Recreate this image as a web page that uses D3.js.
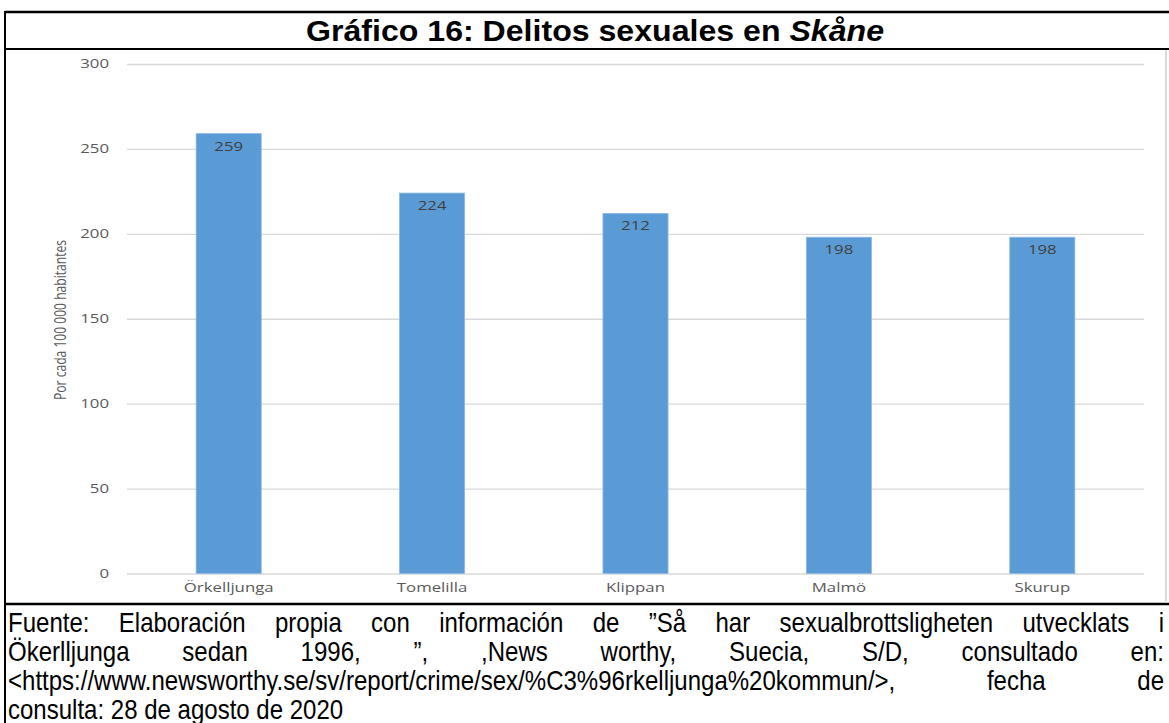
<!DOCTYPE html>
<html>
<head>
<meta charset="utf-8">
<script src="https://cdn.jsdelivr.net/npm/d3@7"></script>
<style>
  body { margin: 0; background: #fff; }
  svg { display: block; }
</style>
</head>
<body>
<div id="container"></div>
<script>
/* DATA */
const categories = ["Örkelljunga", "Tomelilla", "Klippan", "Malmö", "Skurup"];
const values = [259, 224, 212, 198, 198];
const yTicks = [0, 50, 100, 150, 200, 250, 300];
const footerLines = [
  "Fuente: Elaboración propia con información de ”Så har sexualbrottsligheten utvecklats i",
  "Ökerlljunga sedan 1996, ”, ,News worthy, Suecia, S/D, consultado en:",
  "<https://www.newsworthy.se/sv/report/crime/sex/%C3%96rkelljunga%20kommun/>, fecha de",
  "consulta: 28 de agosto de 2020"
];

/* CONSTANTS */
const width = 1169, height = 723;
const plot = { left: 127, right: 1144, top: 64, bottom: 573.5 };
const stretch = 1.4;      // the pasted chart picture is stretched sideways
const footSquash = 0.89;  // footer letters are tall and narrow

const svg = d3.select("#container")
  .append("svg")
  .attr("width", width)
  .attr("height", height);

// FRAME
const frame = svg.append("g").attr("stroke", "#000");
frame.append("line").attr("x1", 5).attr("x2", width).attr("y1", 12).attr("y2", 12).attr("stroke-width", 2.5);
frame.append("line").attr("x1", 5).attr("x2", width).attr("y1", 49).attr("y2", 49).attr("stroke-width", 2);
frame.append("line").attr("x1", 5).attr("x2", width).attr("y1", 604).attr("y2", 604).attr("stroke-width", 2.5);
frame.append("line").attr("x1", 5).attr("x2", 5).attr("y1", 11).attr("y2", height).attr("stroke-width", 2);
svg.append("line")
  .attr("x1", 1166).attr("x2", 1166).attr("y1", 50).attr("y2", 603)
  .attr("stroke", "#d9d9d9").attr("stroke-width", 2);

// TITLE
const title = svg.append("text")
  .attr("x", 595)
  .attr("y", 41)
  .attr("text-anchor", "middle")
  .attr("textLength", 578)
  .attr("lengthAdjust", "spacingAndGlyphs")
  .style("font-family", "'Liberation Sans', Arial, sans-serif")
  .style("font-size", "29px")
  .style("font-weight", "bold")
  .style("fill", "#000");
title.append("tspan").text("Gráfico 16: Delitos sexuales en ");
title.append("tspan").style("font-style", "italic").text("Skåne");

// SCALES
const x = d3.scaleBand()
  .domain(categories)
  .range([plot.left, plot.right])
  .paddingInner(0.68)
  .paddingOuter(0.34);

const y = d3.scaleLinear()
  .domain([0, 300])
  .range([plot.bottom, plot.top]);

// GRIDLINES + Y AXIS
const yAxis = svg.append("g")
  .attr("transform", `translate(${plot.left},0)`)
  .call(d3.axisLeft(y).tickValues(yTicks).tickSize(-(plot.right - plot.left)).tickPadding(0));
yAxis.select(".domain").remove();
yAxis.selectAll("line").attr("stroke", "#d9d9d9").attr("stroke-width", 1.3);
yAxis.selectAll("text")
  .attr("x", -18 / stretch)
  .attr("transform", `scale(${stretch},1)`)
  .style("font-family", "'Open Sans', 'Segoe UI', sans-serif")
  .style("font-size", "12px")
  .style("fill", "#595959");

// Y AXIS TITLE
svg.append("text")
  .attr("transform", `translate(66,320) rotate(-90) scale(1,${stretch})`)
  .attr("text-anchor", "middle")
  .attr("textLength", 160)
  .attr("lengthAdjust", "spacingAndGlyphs")
  .style("font-family", "'Liberation Sans Narrow', 'Open Sans', sans-serif")
  .style("font-size", "12px")
  .style("fill", "#595959")
  .text("Por cada 100 000 habitantes");

// BARS
const data = categories.map((c, i) => ({ name: c, value: values[i] }));

svg.selectAll("rect.bar")
  .data(data)
  .join("rect")
  .attr("class", "bar")
  .attr("x", d => x(d.name))
  .attr("y", d => y(d.value))
  .attr("width", x.bandwidth())
  .attr("height", d => y(0) - y(d.value))
  .attr("fill", "#5b9bd5")
  .attr("stroke", "#8db8e3")
  .attr("stroke-width", 0.8);

// DATA LABELS
svg.selectAll("text.value")
  .data(data)
  .join("text")
  .attr("class", "value")
  .attr("transform", d => `translate(${x(d.name) + x.bandwidth() / 2},${y(d.value) + 17}) scale(${stretch},1)`)
  .attr("text-anchor", "middle")
  .style("font-family", "'Open Sans', 'Segoe UI', sans-serif")
  .style("font-size", "12px")
  .style("fill", "#404040")
  .text(d => d.value);

// CATEGORY LABELS
svg.selectAll("text.cat")
  .data(categories)
  .join("text")
  .attr("class", "cat")
  .attr("transform", d => `translate(${x(d) + x.bandwidth() / 2},592) scale(${stretch},1)`)
  .attr("text-anchor", "middle")
  .style("font-family", "'Open Sans', 'Segoe UI', sans-serif")
  .style("font-size", "12px")
  .style("fill", "#595959")
  .text(d => d);

// FOOTER (justified by hand, in a narrowed group)
const textLeft = 8, textRight = 1164, lineStep = 29, firstBase = 632;
const footer = svg.append("g")
  .attr("transform", `scale(${footSquash},1)`)
  .style("font-family", "'Liberation Sans', Arial, sans-serif")
  .style("font-size", "27px")
  .style("fill", "#000");
const left = textLeft / footSquash, right = textRight / footSquash;

footerLines.forEach((line, i) => {
  const yPos = firstBase + i * lineStep;
  if (i === footerLines.length - 1) {
    footer.append("text").attr("x", left).attr("y", yPos).text(line);
    return;
  }
  const words = line.split(" ");
  const nodes = words.map(w => footer.append("text").attr("y", yPos).text(w));
  const widths = nodes.map(n => n.node().getComputedTextLength());
  const gap = (right - left - d3.sum(widths)) / (words.length - 1);
  let cx = left;
  nodes.forEach((n, j) => {
    n.attr("x", cx);
    cx += widths[j] + gap;
  });
});
</script>
</body>
</html>
